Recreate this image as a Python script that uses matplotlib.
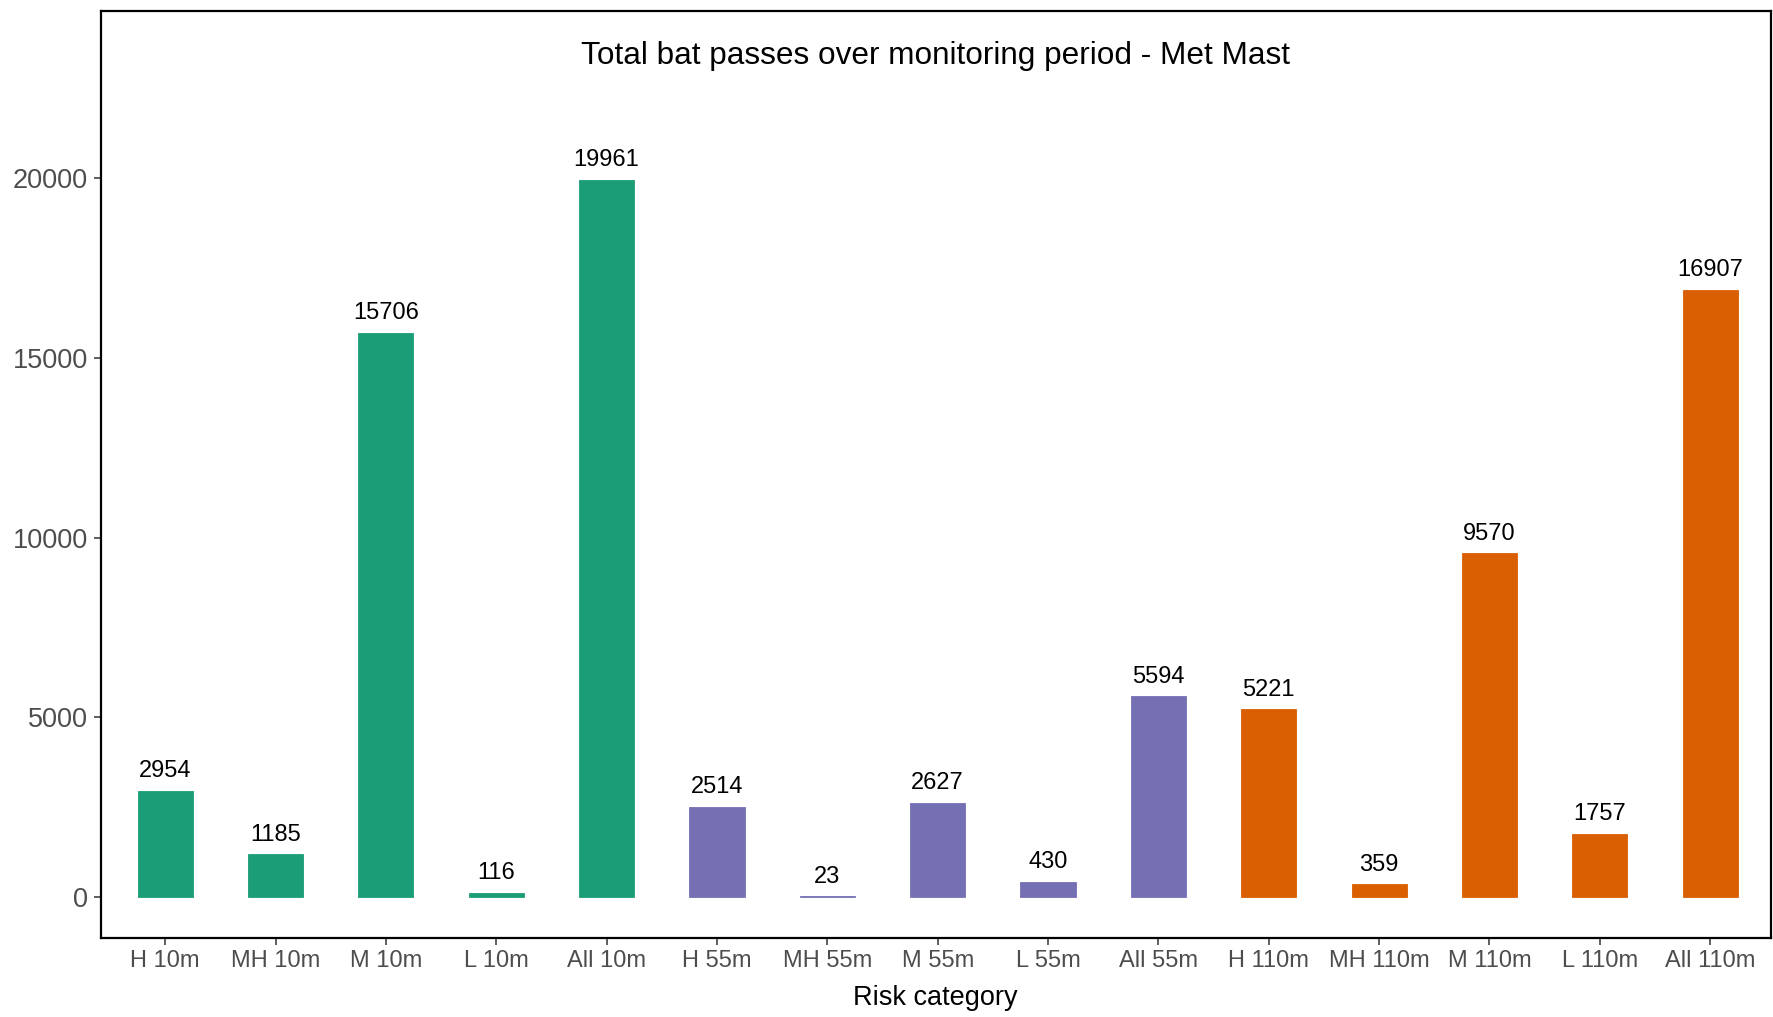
import numpy as np
import matplotlib.pyplot as plt

plt.rcParams['font.family'] = ['Liberation Sans', 'DejaVu Sans']

# data
categories = ['H 10m', 'MH 10m', 'M 10m', 'L 10m', 'All 10m',
              'H 55m', 'MH 55m', 'M 55m', 'L 55m', 'All 55m',
              'H 110m', 'MH 110m', 'M 110m', 'L 110m', 'All 110m']
passes = [2954, 1185, 15706, 116, 19961,
          2514, 23, 2627, 430, 5594,
          5221, 359, 9570, 1757, 16907]
heights = ['10m'] * 5 + ['55m'] * 5 + ['110m'] * 5
height_colors = {'10m': '#1B9E77', '55m': '#7570B3', '110m': '#D95F02'}
yticks = [0, 5000, 10000, 15000, 20000]

fig = plt.figure(figsize=(17.73, 10.17), dpi=100)
ax = fig.add_axes([0.0568, 0.078, 0.942, 0.911])

x = np.arange(len(categories))
cols = [height_colors[h] for h in heights]
bars = ax.bar(x, passes, width=0.5, color=cols, edgecolor=cols, linewidth=0.6)

# value labels above each bar
for xi, v in zip(x, passes):
    ax.annotate(str(v), (xi, v), xytext=(0, 14), textcoords='offset points',
                ha='center', va='center', fontsize=17, color='black')

ax.set_xlim(-0.584, 14.55)
ax.set_ylim(-1132, 24654)
ax.set_xticks(x)
ax.set_xticklabels(categories)
ax.set_yticks(yticks)
ax.set_yticklabels([str(t) for t in yticks])
ax.tick_params(axis='both', labelsize=17, labelcolor='#4D4D4D',
               length=5, width=1.1, color='#333333', pad=4)
ax.tick_params(axis='y', labelsize=19.5)

for s in ax.spines.values():
    s.set_linewidth(1.6)
    s.set_color('black')

ax.set_xlabel('Risk category', fontsize=19.5, labelpad=9)
ax.text(0.5, 0.952, 'Total bat passes over monitoring period - Met Mast',
        transform=ax.transAxes, ha='center', va='center', fontsize=22.7)

fig.savefig('out.png', dpi=100, facecolor='white')
